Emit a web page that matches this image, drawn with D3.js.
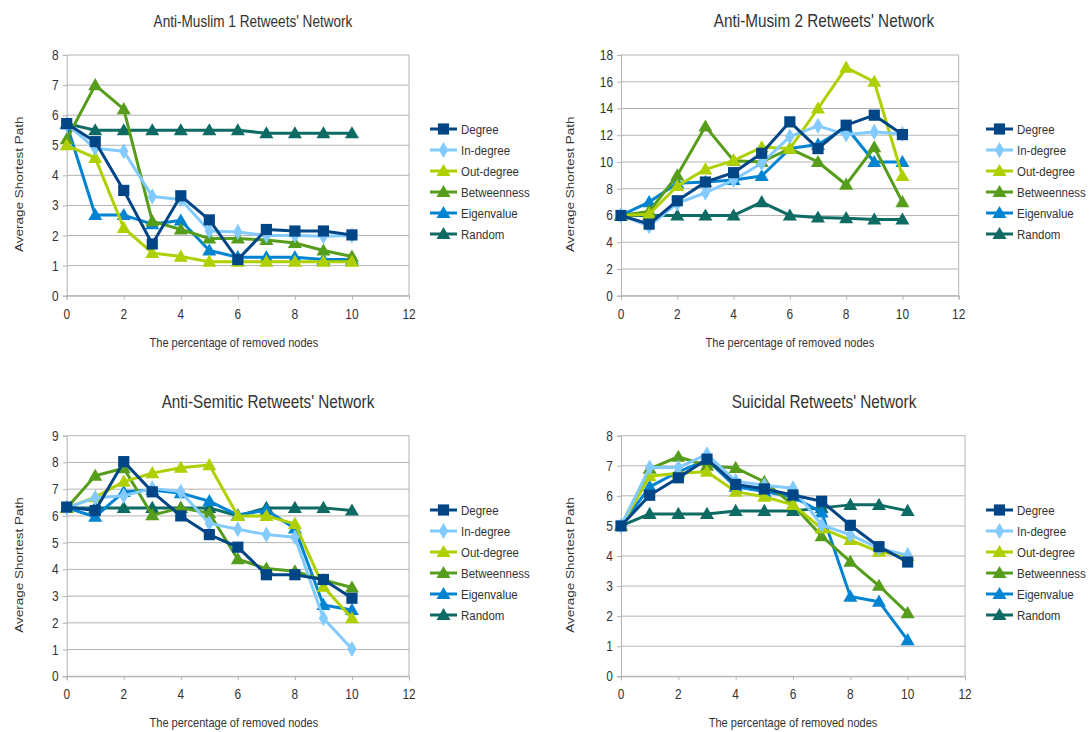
<!DOCTYPE html>
<html>
<head>
<meta charset="utf-8">
<script src="https://cdn.jsdelivr.net/npm/d3@7"></script>
<style>
  html, body { margin: 0; padding: 0; background: #ffffff; }
  svg { display: block; font-family: "Liberation Sans", Arial, sans-serif; }
</style>
</head>
<body>
<svg id="chart" width="1092" height="732"></svg>
<script>
// Percentage of removed nodes (x positions of every series)
const removedPercent = [0, 1, 2, 3, 4, 5, 6, 7, 8, 9, 10];
const xTicks = [0, 2, 4, 6, 8, 10, 12];

// Removal strategies, in legend order
const strategies = ["Degree", "In-degree", "Out-degree", "Betweenness", "Eigenvalue", "Random"];
const strategyColors = ["#004586", "#83caff", "#aecf00", "#579d1c", "#0084d1", "#0d6b63"];
const strategyMarkers = ["square", "diamond", "triangle", "triangle", "triangle", "triangle"];

// Average shortest path per strategy (rows follow the strategies array)
const antiMuslim1 = [
  [5.72, 5.12, 3.5, 1.72, 3.32, 2.52, 1.2, 2.2, 2.15, 2.15, 2.02],
  [5.7, 4.9, 4.8, 3.3, 3.2, 2.15, 2.12, 2.0, 2.0, 1.98, 2.0],
  [5.0, 4.58, 2.25, 1.42, 1.3, 1.13, 1.13, 1.13, 1.13, 1.13, 1.13],
  [5.2, 7.0, 6.2, 2.48, 2.2, 1.9, 1.9, 1.85, 1.75, 1.5, 1.3],
  [5.7, 2.68, 2.68, 2.38, 2.5, 1.5, 1.28, 1.28, 1.28, 1.2, 1.2],
  [5.72, 5.5, 5.5, 5.5, 5.5, 5.5, 5.5, 5.4, 5.4, 5.4, 5.4]
];
const antiMuslim2 = [
  [6.0, 5.35, 7.1, 8.5, 9.2, 10.65, 13.0, 11.0, 12.75, 13.5, 12.05],
  [6.0, 5.2, 6.9, 7.7, 8.65, 9.9, 11.9, 12.7, 12.05, 12.25, 12.1],
  [6.0, 6.1, 8.2, 9.45, 10.1, 11.1, 11.0, 14.0, 17.05, 16.0, 8.95],
  [6.0, 6.3, 9.0, 12.65, 10.1, 10.0, 11.0, 10.0, 8.3, 11.1, 7.0],
  [6.0, 7.0, 8.4, 8.5, 8.65, 8.95, 11.0, 11.3, 12.6, 10.0, 10.0],
  [6.0, 6.0, 6.0, 6.0, 6.0, 7.0, 6.0, 5.85, 5.8, 5.7, 5.7]
];
const antiSemitic = [
  [6.33, 6.2, 8.03, 6.9, 6.0, 5.3, 4.83, 3.8, 3.8, 3.62, 2.92],
  [6.3, 6.68, 6.75, 7.03, 6.9, 5.72, 5.5, 5.3, 5.2, 2.17, 1.02],
  [6.3, 6.7, 7.28, 7.6, 7.8, 7.9, 6.0, 6.0, 5.7, 3.35, 2.17],
  [6.3, 7.5, 7.78, 6.03, 6.3, 6.1, 4.38, 4.03, 3.93, 3.6, 3.32],
  [6.3, 5.97, 6.9, 6.97, 6.85, 6.55, 6.03, 6.22, 5.53, 2.67, 2.48],
  [6.3, 6.3, 6.3, 6.3, 6.3, 6.3, 6.0, 6.3, 6.3, 6.3, 6.2]
];
const suicidal = [
  [5.0, 6.02, 6.6, 7.22, 6.38, 6.23, 6.03, 5.82, 5.02, 4.31, 3.8],
  [5.0, 6.94, 6.94, 7.38, 6.49, 6.35, 6.25, 5.03, 4.7, 4.25, 4.03],
  [5.0, 6.65, 6.75, 6.8, 6.14, 5.97, 5.7, 4.92, 4.53, 4.14, 4.0],
  [5.0, 6.9, 7.3, 7.0, 6.93, 6.47, 5.7, 4.66, 3.81, 3.01, 2.1],
  [5.0, 6.3, 6.8, 7.2, 6.3, 6.14, 5.97, 5.45, 2.65, 2.48, 1.2],
  [5.0, 5.4, 5.4, 5.4, 5.5, 5.5, 5.5, 5.6, 5.7, 5.7, 5.5]
];

const panelTitles = ["Anti-Muslim 1 Retweets' Network", "Anti-Musim 2 Retweets' Network",
                     "Anti-Semitic Retweets' Network", "Suicidal Retweets' Network"];
const panelYMax = [8, 18, 9, 8];
const panelYStep = [1, 2, 1, 1];
const panelData = [antiMuslim1, antiMuslim2, antiSemitic, suicidal];

const xTitle = "The percentage of removed nodes";
const yTitle = "Average Shortest Path";

// Layout of the four panels
const panels = [
  { left: 66.7, right: 409, top: 55, bottom: 295.7, legendX: 430, legendY: 129, titleX: 253, titleSize: 16 },
  { left: 621, right: 958.7, top: 55, bottom: 295.7, legendX: 986, legendY: 129, titleX: 824, titleSize: 18 },
  { left: 66.7, right: 409, top: 435.7, bottom: 676.3, legendX: 430, legendY: 510, titleX: 268, titleSize: 18 },
  { left: 621, right: 965, top: 435.7, bottom: 676.3, legendX: 986, legendY: 510, titleX: 824, titleSize: 18 }
];

const squeeze = 0.85;       // narrow glyph proportions used throughout
const textColor = "#333333";
const gridColor = "#b3b3b3";

const svg = d3.select("#chart");

function placeText(g, x, y, str, size, anchor, rotate) {
  return g.append("text")
    .attr("transform", `translate(${x},${y}) scale(${squeeze},1)` + (rotate ? " rotate(-90)" : ""))
    .attr("text-anchor", anchor)
    .attr("font-size", size)
    .attr("fill", textColor)
    .text(str);
}

function drawMarker(g, kind, x, y, color) {
  let sym;
  if (kind === "square") sym = d3.symbol(d3.symbolSquare, 125);
  else if (kind === "diamond") sym = d3.symbol(d3.symbolDiamond, 75);
  else sym = d3.symbol(d3.symbolTriangle, 85);
  g.append("path")
    .attr("d", sym())
    .attr("transform", `translate(${x},${y + (kind === "triangle" ? 1 : 0)})`)
    .attr("fill", color);
}

panels.forEach((p, i) => {
  const g = svg.append("g");
  const x = d3.scaleLinear().domain([0, 12]).range([p.left, p.right]);
  const y = d3.scaleLinear().domain([0, panelYMax[i]]).range([p.bottom, p.top]);
  const yTicks = d3.range(0, panelYMax[i] + 0.001, panelYStep[i]);

  // horizontal gridlines
  g.selectAll("line.grid").data(yTicks).join("line")
    .attr("x1", p.left).attr("x2", p.right)
    .attr("y1", d => y(d)).attr("y2", d => y(d))
    .attr("stroke", gridColor).attr("stroke-width", 1);
  // right edge of the plot area
  g.append("line").attr("x1", p.right).attr("x2", p.right)
    .attr("y1", p.top).attr("y2", p.bottom).attr("stroke", gridColor);

  // axes
  const xAxis = d3.axisBottom(x).tickValues(xTicks).tickSize(4).tickFormat("");
  const yAxis = d3.axisLeft(y).tickValues(yTicks).tickSize(4).tickFormat("");
  const gx = g.append("g").attr("transform", `translate(0,${p.bottom})`).call(xAxis);
  const gy = g.append("g").attr("transform", `translate(${p.left},0)`).call(yAxis);
  [gx, gy].forEach(a => {
    a.select(".domain").attr("stroke", gridColor);
    a.selectAll(".tick line").attr("stroke", gridColor);
  });
  xTicks.forEach(t => placeText(g, x(t), p.bottom + 23, String(t), 14, "middle"));
  yTicks.forEach(t => placeText(g, p.left - 8, y(t) + 5, String(t), 14, "end"));

  // titles
  placeText(g, p.titleX, p.top - 28, panelTitles[i], p.titleSize, "middle");
  placeText(g, (p.left + p.right) / 2 - (i % 2 === 0 ? 4 : 0), p.bottom + 51, xTitle, 13, "middle");
  placeText(g, p.left - 44 - (i % 2 === 1 ? 3 : 0), (p.top + p.bottom) / 2 + 9, yTitle, 13.5, "middle", true);

  // series, drawn so that the first strategy ends up on top
  const line = d3.line().x((d, k) => x(removedPercent[k])).y(d => y(d));
  for (let s = strategies.length - 1; s >= 0; s--) {
    const vals = panelData[i][s];
    const sg = g.append("g");
    sg.append("path").attr("d", line(vals))
      .attr("fill", "none").attr("stroke", strategyColors[s])
      .attr("stroke-width", 3).attr("stroke-linejoin", "round");
    vals.forEach((v, k) => drawMarker(sg, strategyMarkers[s], x(removedPercent[k]), y(v), strategyColors[s]));
  }

  // legend
  strategies.forEach((name, s) => {
    const ly = p.legendY + s * 21;
    const lg = g.append("g");
    lg.append("line").attr("x1", p.legendX).attr("x2", p.legendX + 27)
      .attr("y1", ly).attr("y2", ly).attr("stroke", strategyColors[s]).attr("stroke-width", 3);
    drawMarker(lg, strategyMarkers[s], p.legendX + 13.5, ly, strategyColors[s]);
    placeText(lg, p.legendX + 31, ly + 5, name, 13.5, "start");
  });
});
</script>
</body>
</html>
